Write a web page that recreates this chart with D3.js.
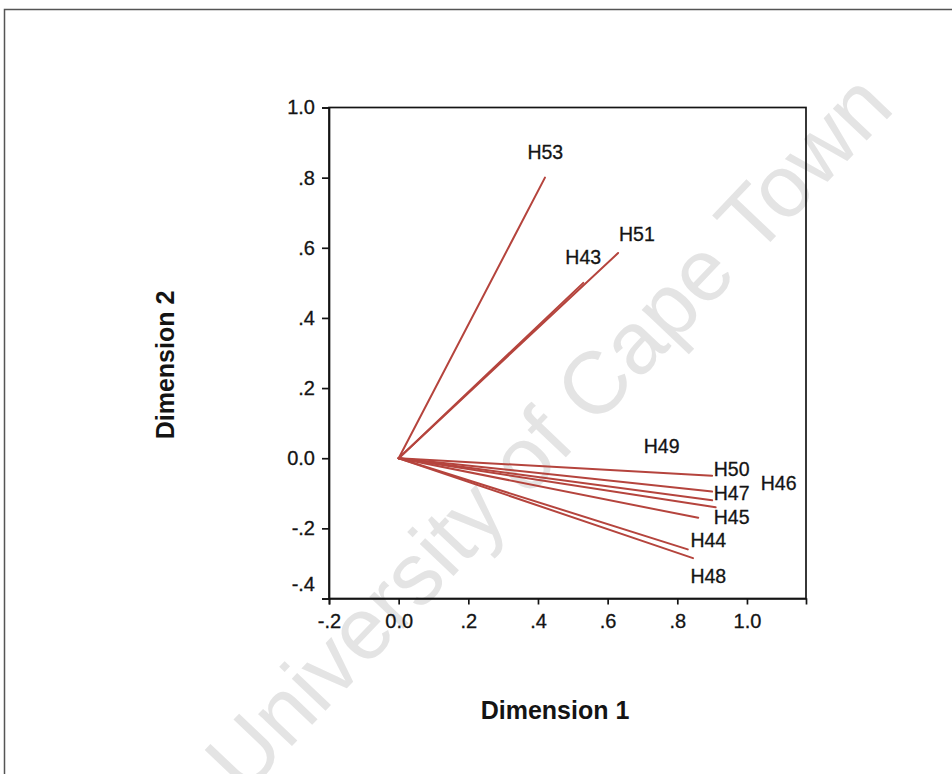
<!DOCTYPE html>
<html>
<head>
<meta charset="utf-8">
<script src="https://cdn.jsdelivr.net/npm/d3@7"></script>
<style>
  html, body { margin: 0; padding: 0; background: #fff; }
  svg { display: block; }
</style>
</head>
<body>
<svg id="chart" width="952" height="774"></svg>
<script>
// ---- data ----
const variables = ["H53", "H51", "H43", "H50", "H46", "H47", "H45", "H49", "H44", "H48"];
const dim1 = [0.42, 0.63, 0.53, 0.90, 0.90, 0.90, 0.91, 0.86, 0.83, 0.845];
const dim2 = [0.80, 0.585, 0.50, -0.05, -0.095, -0.12, -0.14, -0.17, -0.26, -0.285];
// label anchor points (data units) as placed in the original
const labelDim1 = [0.421, 0.684, 0.530, 0.956, 1.091, 0.956, 0.956, 0.755, 0.889, 0.889];
const labelDim2 = [0.873, 0.640, 0.574, -0.032, -0.070, -0.099, -0.168, 0.035, -0.232, -0.336];
const xTickValues = [-0.2, 0, 0.2, 0.4, 0.6, 0.8, 1.0];
const xTickLabels = ["-.2", "0.0", ".2", ".4", ".6", ".8", "1.0"];
const yTickValues = [-0.4, -0.2, 0, 0.2, 0.4, 0.6, 0.8, 1.0];
const yTickLabels = ["-.4", "-.2", "0.0", ".2", ".4", ".6", ".8", "1.0"];
const xTitle = "Dimension 1";
const yTitle = "Dimension 2";
const watermark = "University of Cape Town";

// ---- layout ----
const svg = d3.select("#chart");
const plot = { left: 329, top: 107.5, right: 806, bottom: 598.5 };
const x = d3.scaleLinear().domain([-0.2, 1.1695]).range([plot.left, plot.right]);
const y = d3.scaleLinear().domain([-0.4, 1.0]).range([plot.bottom, plot.top]);
const lineColor = "#b5443d";
const font = "Arial, 'Liberation Sans', Helvetica, sans-serif";
const ink = "#141414";

// outer page frame
svg.append("path")
  .attr("d", "M4.5,780 L4.5,9.5 L960,9.5")
  .attr("fill", "none").attr("stroke", "#555").attr("stroke-width", 1.5);

// watermark
svg.append("text")
  .attr("transform", "translate(548,432) rotate(-46.5)")
  .attr("text-anchor", "middle")
  .attr("dominant-baseline", "central")
  .attr("font-family", font)
  .attr("font-size", 88)
  .attr("fill", "#e4e4e4")
  .text(watermark);

// plot frame
svg.append("rect")
  .attr("x", plot.left).attr("y", plot.top)
  .attr("width", plot.right - plot.left).attr("height", plot.bottom - plot.top)
  .attr("fill", "none").attr("stroke", ink).attr("stroke-width", 1.7);

// axes
const xAxis = svg.append("g")
  .attr("transform", `translate(0,${plot.bottom})`)
  .call(d3.axisBottom(x).tickValues(xTickValues)
        .tickFormat((d, i) => xTickLabels[i]).tickSize(6).tickPadding(9));
const yAxis = svg.append("g")
  .attr("transform", `translate(${plot.left},0)`)
  .call(d3.axisLeft(y).tickValues(yTickValues)
        .tickFormat((d, i) => yTickLabels[i]).tickSize(7).tickPadding(7));

[xAxis, yAxis].forEach(g => {
  g.select(".domain").attr("stroke", ink).attr("stroke-width", 1.7);
  g.selectAll(".tick line").attr("stroke", ink).attr("stroke-width", 1.7);
  g.selectAll(".tick text")
    .attr("fill", ink)
    .attr("stroke", ink).attr("stroke-width", 0.3)
    .attr("font-family", font)
    .attr("font-size", 20);
});
xAxis.selectAll(".tick text").attr("dy", "0.7em");
// the lowest y label sits just above the corner, as in the original
yAxis.selectAll(".tick text").filter(d => d === -0.4).attr("dy", "-0.42em");

// vectors
const data = variables.map((v, i) => ({
  name: v, d1: dim1[i], d2: dim2[i], l1: labelDim1[i], l2: labelDim2[i]
}));

svg.append("g").selectAll("line")
  .data(data).join("line")
  .attr("x1", x(0)).attr("y1", y(0))
  .attr("x2", d => x(d.d1)).attr("y2", d => y(d.d2))
  .attr("stroke", lineColor).attr("stroke-width", 2)
  .attr("stroke-linecap", "round");

svg.append("g").selectAll("text")
  .data(data).join("text")
  .attr("x", d => x(d.l1)).attr("y", d => y(d.l2))
  .attr("dy", "0.36em")
  .attr("text-anchor", "middle")
  .attr("font-family", font)
  .attr("font-size", 19.5)
  .attr("fill", ink).attr("stroke", ink).attr("stroke-width", 0.3)
  .text(d => d.name);

// axis titles
svg.append("text")
  .attr("x", 555).attr("y", 719)
  .attr("text-anchor", "middle")
  .attr("font-family", font).attr("font-weight", "bold")
  .attr("font-size", 25).attr("fill", ink)
  .text(xTitle);

svg.append("text")
  .attr("transform", "translate(173.5,365) rotate(-90)")
  .attr("text-anchor", "middle")
  .attr("font-family", font).attr("font-weight", "bold")
  .attr("font-size", 25).attr("fill", ink)
  .text(yTitle);
</script>
</body>
</html>
